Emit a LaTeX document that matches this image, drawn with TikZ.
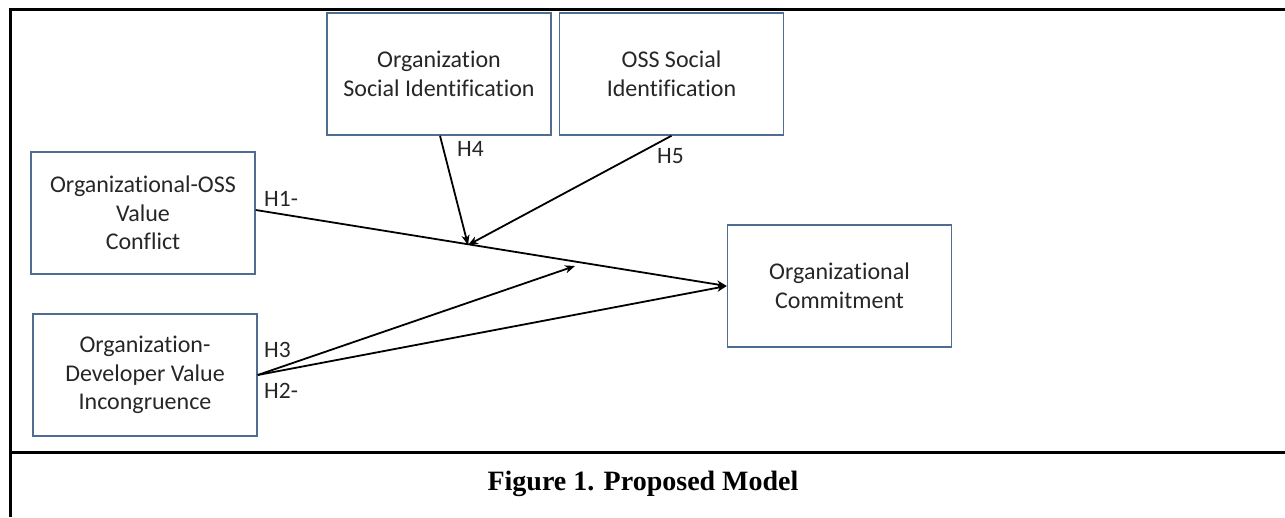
\documentclass[tikz,border=0pt]{standalone}
\usepackage{fontspec}
\setmainfont{Carlito}[Ligatures=NoCommon]
\newfontfamily\capfont{Liberation Serif}
\usetikzlibrary{arrows.meta}
\definecolor{boxblue}{RGB}{79,109,145}
\definecolor{txtgray}{RGB}{38,38,38}
\begin{document}
\begin{tikzpicture}[x=1pt,y=-1pt,
  var/.style={draw=boxblue,line width=1.5pt,minimum width=224pt,minimum height=122pt,
    align=center,inner sep=0pt,text=txtgray,font=\fontsize{24}{28.5}\selectfont},
  hyp/.style={font=\fontsize{23.5}{28}\selectfont,inner sep=0pt,text=txtgray},
  conn/.style={line width=1.8pt,-{Stealth[length=10pt,width=8pt,inset=3pt]}},
  frame/.style={line width=3pt}]
\useasboundingbox (0,0) rectangle (1285,517);
% frame
\draw[frame] (1285,9.5) -- (10.5,9.5) -- (10.5,517);
\draw[frame] (10.5,452) -- (1285,452);
% boxes
\node[var] (osi) at (439,74) {Organization\\Social Identification};
\node[var] (oss) at (671.5,74) {OSS Social\\Identification};
\node[var] (vc) at (143,213) {Organizational-OSS\\Value\\Conflict};
\node[var] (dv) at (145,375) {Organization-\\Developer Value\\Incongruence};
\node[var] (oc) at (839.5,286) {Organizational\\Commitment};
% junction points
\coordinate (j1) at (468,245);
\coordinate (j3) at (575,266);
% connectors
\draw[conn] ([yshift=3pt]vc.east) -- (oc.west);
\draw[conn] ([xshift=1pt]osi.south) -- (j1);
\draw[conn] (oss.south) -- (j1);
\draw[conn] (dv.east) -- (j3);
\draw[conn] (dv.east) -- (oc.west);
% labels
\node[hyp,anchor=west] (h1) at (264,199) {H1-};
\node[hyp,anchor=west] (h4) at (457,149) {H4};
\node[hyp,anchor=west] (h5) at (657,156) {H5};
\node[hyp,anchor=west] (h3) at (264,350) {H3};
\node[hyp,anchor=west] (h2) at (264,391) {H2-};
% caption
\node[font=\capfont\bfseries\fontsize{28}{34}\selectfont] (cap) at (643,484) {Figure 1. Proposed Model};
\end{tikzpicture}
\end{document}
